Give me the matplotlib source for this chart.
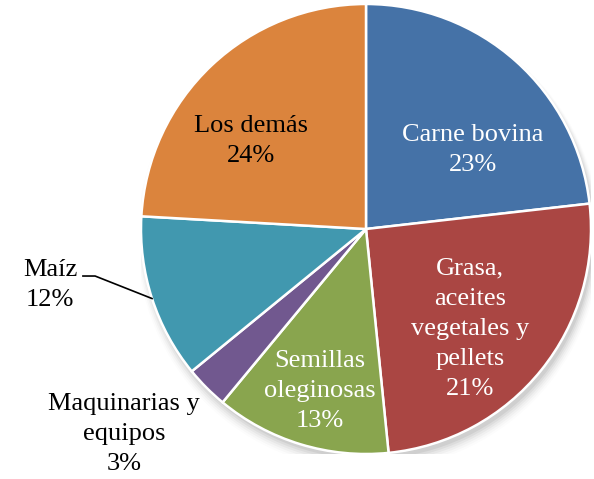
import numpy as np
import matplotlib
matplotlib.use("Agg")
import matplotlib.pyplot as plt
from matplotlib.patches import Circle

# slice sizes (clockwise from the top)
categories = ["Carne bovina", "Grasa, aceites vegetales y pellets",
              "Semillas oleginosas", "Maquinarias y equipos", "Maíz", "Los demás"]
sizes = [23.2, 25.2, 12.6, 3.1, 11.8, 24.1]
label_texts = ["Carne bovina\n23%", "Grasa,\naceites\nvegetales y\npellets\n21%",
               "Semillas\noleginosas\n13%", "Maquinarias y\nequipos\n3%",
               "Maíz\n12%", "Los demás\n24%"]
colors = ["#4572A7", "#AA4643", "#89A54E", "#71588F", "#4198AF", "#DB843D"]
text_colors = ["white", "white", "white", "black", "black", "black"]
label_pos = [(0.476, 0.351), (0.462, -0.444), (-0.204, -0.72),
             (-1.076, -0.911), (-1.404, -0.249), (-0.511, 0.391)]

plt.rcParams["font.family"] = ["Liberation Serif", "DejaVu Serif"]

fig = plt.figure(figsize=(5.94, 4.79), dpi=100)
ax = fig.add_axes([141 / 594, 25 / 479, 450 / 594, 450 / 479])
ax.set_xlim(-1, 1)
ax.set_ylim(-1, 1)
ax.axis("off")

# soft shadow under the pie
for i, a in enumerate(np.linspace(0.05, 0.012, 6)):
    ax.add_patch(Circle((0.012, -0.022 - 0.004 * i), 1.0 + 0.006 * i,
                        color="black", alpha=a, lw=0, zorder=0))

wedges, _ = ax.pie(sizes, colors=colors, startangle=90, counterclock=False,
                   radius=1.0, wedgeprops=dict(edgecolor="white", linewidth=1.8))
for w in wedges:
    w.set_zorder(2)
ax.set_xlim(-1, 1)
ax.set_ylim(-1, 1)

for txt, (x, y), c in zip(label_texts, label_pos, text_colors):
    ax.text(x, y, txt, ha="center", va="center", color=c, fontsize=19,
            linespacing=1.48, zorder=5, clip_on=False)

# leader line for Maíz
w = wedges[4]
mid = np.deg2rad((w.theta1 + w.theta2) / 2)
ax.plot([-1.258, -1.204, np.cos(mid)], [-0.209, -0.209, np.sin(mid)],
        color="black", lw=1.2, zorder=4, clip_on=False)

fig.savefig("out.png", dpi=100)
